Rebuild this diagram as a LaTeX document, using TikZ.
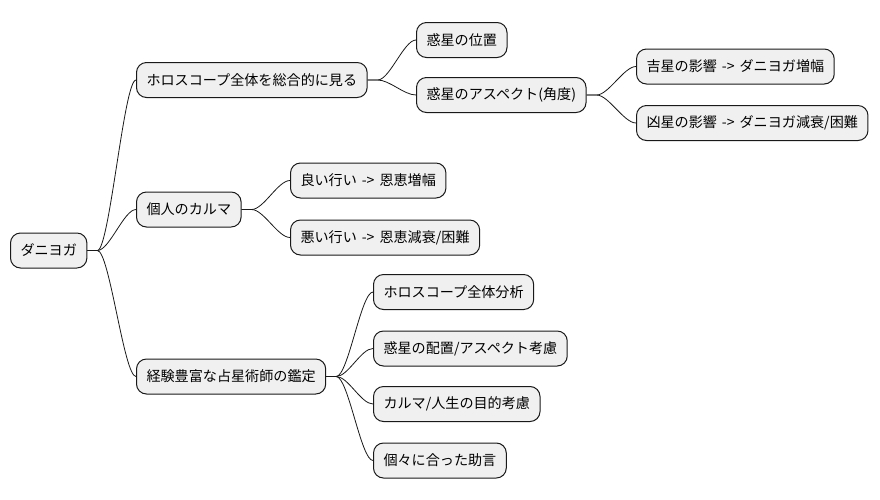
\documentclass[tikz,border=0pt]{standalone}
\usepackage{fontspec}
\setmainfont{Noto Sans CJK JP}
\newcommand\myarrow{\hspace{1.8pt} -> \hspace{1.8pt}}
\begin{document}
\begin{tikzpicture}[x=1pt,y=-1pt,
  mm/.style={draw=black!90, line width=1pt, fill=black!6, rounded corners=10pt,
    minimum height=35pt, inner xsep=10pt, anchor=west,
    font=\fontsize{14.1}{16}\selectfont},
  conn/.style={draw=black!90, line width=0.8pt}]
\useasboundingbox (0,0) rectangle (880,499);
\newcommand\mmedge[2]{\draw[conn] (#1.east) -- ++(10,0) .. controls +(12,0) and +(-12,0) .. (#2.west);}
\node[mm] (root) at (10,250.5) {ダニヨガ};
\node[mm] (a) at (136,80) {ホロスコープ全体を総合的に見る};
\node[mm] (a1) at (416,40) {惑星の位置};
\node[mm] (a2) at (416,95) {惑星のアスペクト(角度)};
\node[mm] (a21) at (636,66.5) {吉星の影響\myarrow ダニヨガ増幅};
\node[mm] (a22) at (636,123) {凶星の影響\myarrow ダニヨガ減衰/困難};
\node[mm] (b) at (136,209.5) {個人のカルマ};
\node[mm] (b1) at (290,180.5) {良い行い\myarrow 恩恵増幅};
\node[mm] (b2) at (290,237.5) {悪い行い\myarrow 恩恵減衰/困難};
\node[mm] (c) at (136,376.5) {経験豊富な占星術師の鑑定};
\node[mm] (c1) at (373,292) {ホロスコープ全体分析};
\node[mm] (c2) at (373,348.5) {惑星の配置/アスペクト考慮};
\node[mm] (c3) at (373,404) {カルマ/人生の目的考慮};
\node[mm] (c4) at (373,460.5) {個々に合った助言};
\mmedge{root}{a}
\mmedge{root}{b}
\mmedge{root}{c}
\mmedge{a}{a1}
\mmedge{a}{a2}
\mmedge{a2}{a21}
\mmedge{a2}{a22}
\mmedge{b}{b1}
\mmedge{b}{b2}
\mmedge{c}{c1}
\mmedge{c}{c2}
\mmedge{c}{c3}
\mmedge{c}{c4}
\end{tikzpicture}
\end{document}
